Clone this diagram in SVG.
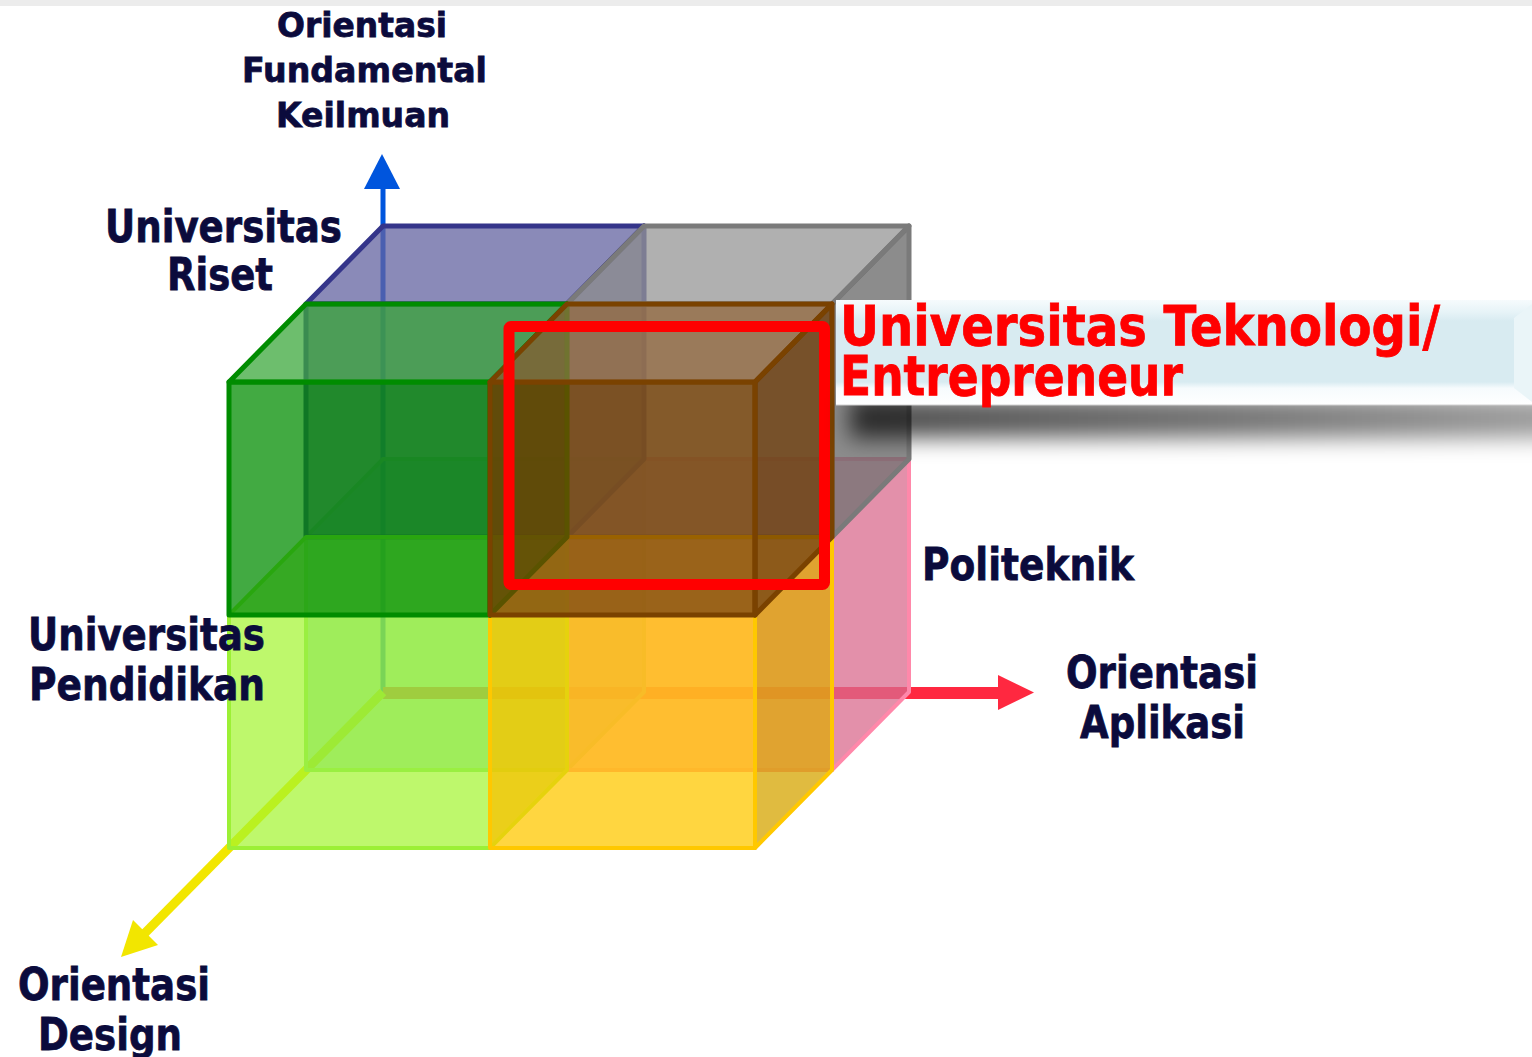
<svg xmlns="http://www.w3.org/2000/svg" width="1532" height="1057" viewBox="0 0 1532 1057">
<defs>
<style>
.lbl{font-family:"DejaVu Sans",Verdana,sans-serif;font-weight:bold;fill:#0b0b3c;stroke:#0b0b3c;stroke-width:0.8}
.lbl45{font-size:45px}
.lbl33{font-size:34px}
.red{font-family:"DejaVu Sans",Verdana,sans-serif;font-weight:bold;fill:#ff0000;stroke:#ff0000;stroke-width:0.8;font-size:55px}
.cube polygon{stroke-width:5;stroke-linejoin:round;fill-opacity:0.75}
.green polygon{stroke:#008c00}.green .f{fill:#038e03}.green .t{fill:#3ca83c}.green .r{fill:#006a00}
.brown polygon{stroke:#7a4200}.brown .f{fill:#784000}.brown .t{fill:#956b40}.brown .r{fill:#673400}
.lgreen polygon{stroke:#9cf035;stroke-width:4}.lgreen .f{fill:#a2f52d;fill-opacity:0.7}.lgreen .t{fill:#b8fb50;fill-opacity:0.7}.lgreen .r{fill:#8ed82a;fill-opacity:0.7}
.yellow polygon{stroke:#ffc800;stroke-width:4}.yellow .f{fill:#ffc800}.yellow .t{fill:#ffd84a}.yellow .r{fill:#d6a400}
.blue polygon{stroke:#35358a}.blue .f{fill:#50508c}.blue .t{fill:#6363a0}.blue .r{fill:#3c3c78}
.gray polygon{stroke:#7a7a7a}.gray .f{fill:#8c8c8c}.gray .t{fill:#969696}.gray .r{fill:#666666}
.bbl polygon{stroke:#88e070;stroke-width:4}.bbl .f{fill:#30b890;fill-opacity:0.5}.bbl .t{fill:#50c880;fill-opacity:0.5}.bbl .r{fill:#38b070;fill-opacity:0.5}
.pink polygon{stroke:#ff88aa;stroke-width:4}.pink .f{fill:#ff80aa}.pink .t{fill:#ff99bb}.pink .r{fill:#d96b8e}
</style>
<linearGradient id="band" x1="0" y1="0" x2="0" y2="1">
<stop offset="0" stop-color="#f6fbfd"/>
<stop offset="0.12" stop-color="#e6f3f7"/>
<stop offset="0.2" stop-color="#d8ebf1"/>
<stop offset="0.78" stop-color="#d8ebf1"/>
<stop offset="0.84" stop-color="#f6fbfd"/>
<stop offset="1" stop-color="#ffffff"/>
</linearGradient>
<linearGradient id="shade" x1="0" y1="0" x2="1" y2="0">
<stop offset="0" stop-color="#000000" stop-opacity="0.7"/>
<stop offset="0.5" stop-color="#000000" stop-opacity="0.55"/>
<stop offset="1" stop-color="#000000" stop-opacity="0.35"/>
</linearGradient>
<filter id="blur" x="-20%" y="-100%" width="140%" height="300%">
<feGaussianBlur stdDeviation="11"/>
</filter>
</defs>
<rect x="0" y="0" width="1532" height="1057" fill="#ffffff"/>
<rect x="0" y="0" width="1532" height="6" fill="#ececec"/>

<g id="axes">
<line x1="383" y1="692" x2="383" y2="188" stroke="#0055dd" stroke-width="5"/>
<polygon points="364,189 400,189 382,154" fill="#0055dd"/>
<line x1="383" y1="693" x2="1000" y2="693" stroke="#ff2840" stroke-width="12"/>
<polygon points="998,675 998,710 1034,692.5" fill="#ff2840"/>
<line x1="383" y1="692" x2="143" y2="935" stroke="#f2e600" stroke-width="9"/>
<polygon points="133,920 158,945 121,957" fill="#f2e600"/>
</g>

<g id="cube-back-bottom-left" class="cube bbl">
<polygon class="f" points="306,537 567,537 567,770 306,770"/>
<polygon class="t" points="306,537 383,459 644,459 567,537"/>
<polygon class="r" points="567,537 644,459 644,692 567,770"/>
</g>
<g id="cube-back-bottom-right" class="cube pink">
<polygon class="f" points="567,537 832,537 832,770 567,770"/>
<polygon class="t" points="567,537 644,459 909,459 832,537"/>
<polygon class="r" points="832,537 909,459 909,692 832,770"/>
</g>
<g id="cube-back-top-left" class="cube blue">
<polygon class="f" points="306,304 567,304 567,537 306,537"/>
<polygon class="t" points="306,304 383,226 644,226 567,304"/>
<polygon class="r" points="567,304 644,226 644,459 567,537"/>
</g>
<g id="cube-back-top-right" class="cube gray">
<polygon class="f" points="567,304 832,304 832,537 567,537"/>
<polygon class="t" points="567,304 644,226 909,226 832,304"/>
<polygon class="r" points="832,304 909,226 909,459 832,537"/>
</g>
<g id="cube-front-bottom-left" class="cube lgreen">
<polygon class="f" points="229,615 490,615 490,848 229,848"/>
<polygon class="t" points="229,615 306,537 567,537 490,615"/>
<polygon class="r" points="490,615 567,537 567,770 490,848"/>
</g>
<g id="cube-front-bottom-right" class="cube yellow">
<polygon class="f" points="490,615 755,615 755,848 490,848"/>
<polygon class="t" points="490,615 567,537 832,537 755,615"/>
<polygon class="r" points="755,615 832,537 832,770 755,848"/>
</g>
<g id="cube-front-top-left" class="cube green">
<polygon class="f" points="229,382 490,382 490,615 229,615"/>
<polygon class="t" points="229,382 306,304 567,304 490,382"/>
<polygon class="r" points="490,382 567,304 567,537 490,615"/>
</g>
<g id="cube-front-top-right" class="cube brown">
<polygon class="f" points="490,382 755,382 755,615 490,615"/>
<polygon class="t" points="490,382 567,304 832,304 755,382"/>
<polygon class="r" points="755,382 832,304 832,537 755,615"/>
</g>

<g id="highlight">
<rect x="509" y="326.5" width="315.5" height="258" fill="none" stroke="#ff0000" stroke-width="11" stroke-linejoin="round" rx="2"/>
</g>

<g id="callout">
<rect x="850" y="398" width="760" height="40" fill="url(#shade)" filter="url(#blur)"/>
<rect x="836" y="300" width="700" height="105" fill="url(#band)"/>
<polygon points="1514,318 1532,304 1532,402 1514,388" fill="#eaf5f8"/>
<line x1="836" y1="405" x2="1532" y2="405" stroke="#d0d0d0" stroke-width="1"/>
<text class="red" x="840" y="345" textLength="600" lengthAdjust="spacingAndGlyphs">Universitas Teknologi/</text>
<text class="red" x="840" y="395" textLength="343" lengthAdjust="spacingAndGlyphs">Entrepreneur</text>
</g>

<g id="label-fundamental" class="lbl lbl33">
<text x="277" y="37" textLength="170" lengthAdjust="spacingAndGlyphs">Orientasi</text>
<text x="242" y="82" textLength="245" lengthAdjust="spacingAndGlyphs">Fundamental</text>
<text x="276" y="127" textLength="174" lengthAdjust="spacingAndGlyphs">Keilmuan</text>
</g>
<g id="label-riset" class="lbl lbl45">
<text x="105" y="242" textLength="237" lengthAdjust="spacingAndGlyphs">Universitas</text>
<text x="167" y="290" textLength="106" lengthAdjust="spacingAndGlyphs">Riset</text>
</g>
<g id="label-politeknik" class="lbl lbl45">
<text x="922" y="580" textLength="212" lengthAdjust="spacingAndGlyphs">Politeknik</text>
</g>
<g id="label-pendidikan" class="lbl lbl45">
<text x="28" y="650" textLength="237" lengthAdjust="spacingAndGlyphs">Universitas</text>
<text x="29" y="700" textLength="236" lengthAdjust="spacingAndGlyphs">Pendidikan</text>
</g>
<g id="label-aplikasi" class="lbl lbl45">
<text x="1066" y="688" textLength="192" lengthAdjust="spacingAndGlyphs">Orientasi</text>
<text x="1080" y="738" textLength="165" lengthAdjust="spacingAndGlyphs">Aplikasi</text>
</g>
<g id="label-design" class="lbl lbl45">
<text x="18" y="1000" textLength="192" lengthAdjust="spacingAndGlyphs">Orientasi</text>
<text x="38" y="1050" textLength="144" lengthAdjust="spacingAndGlyphs">Design</text>
</g>
</svg>
